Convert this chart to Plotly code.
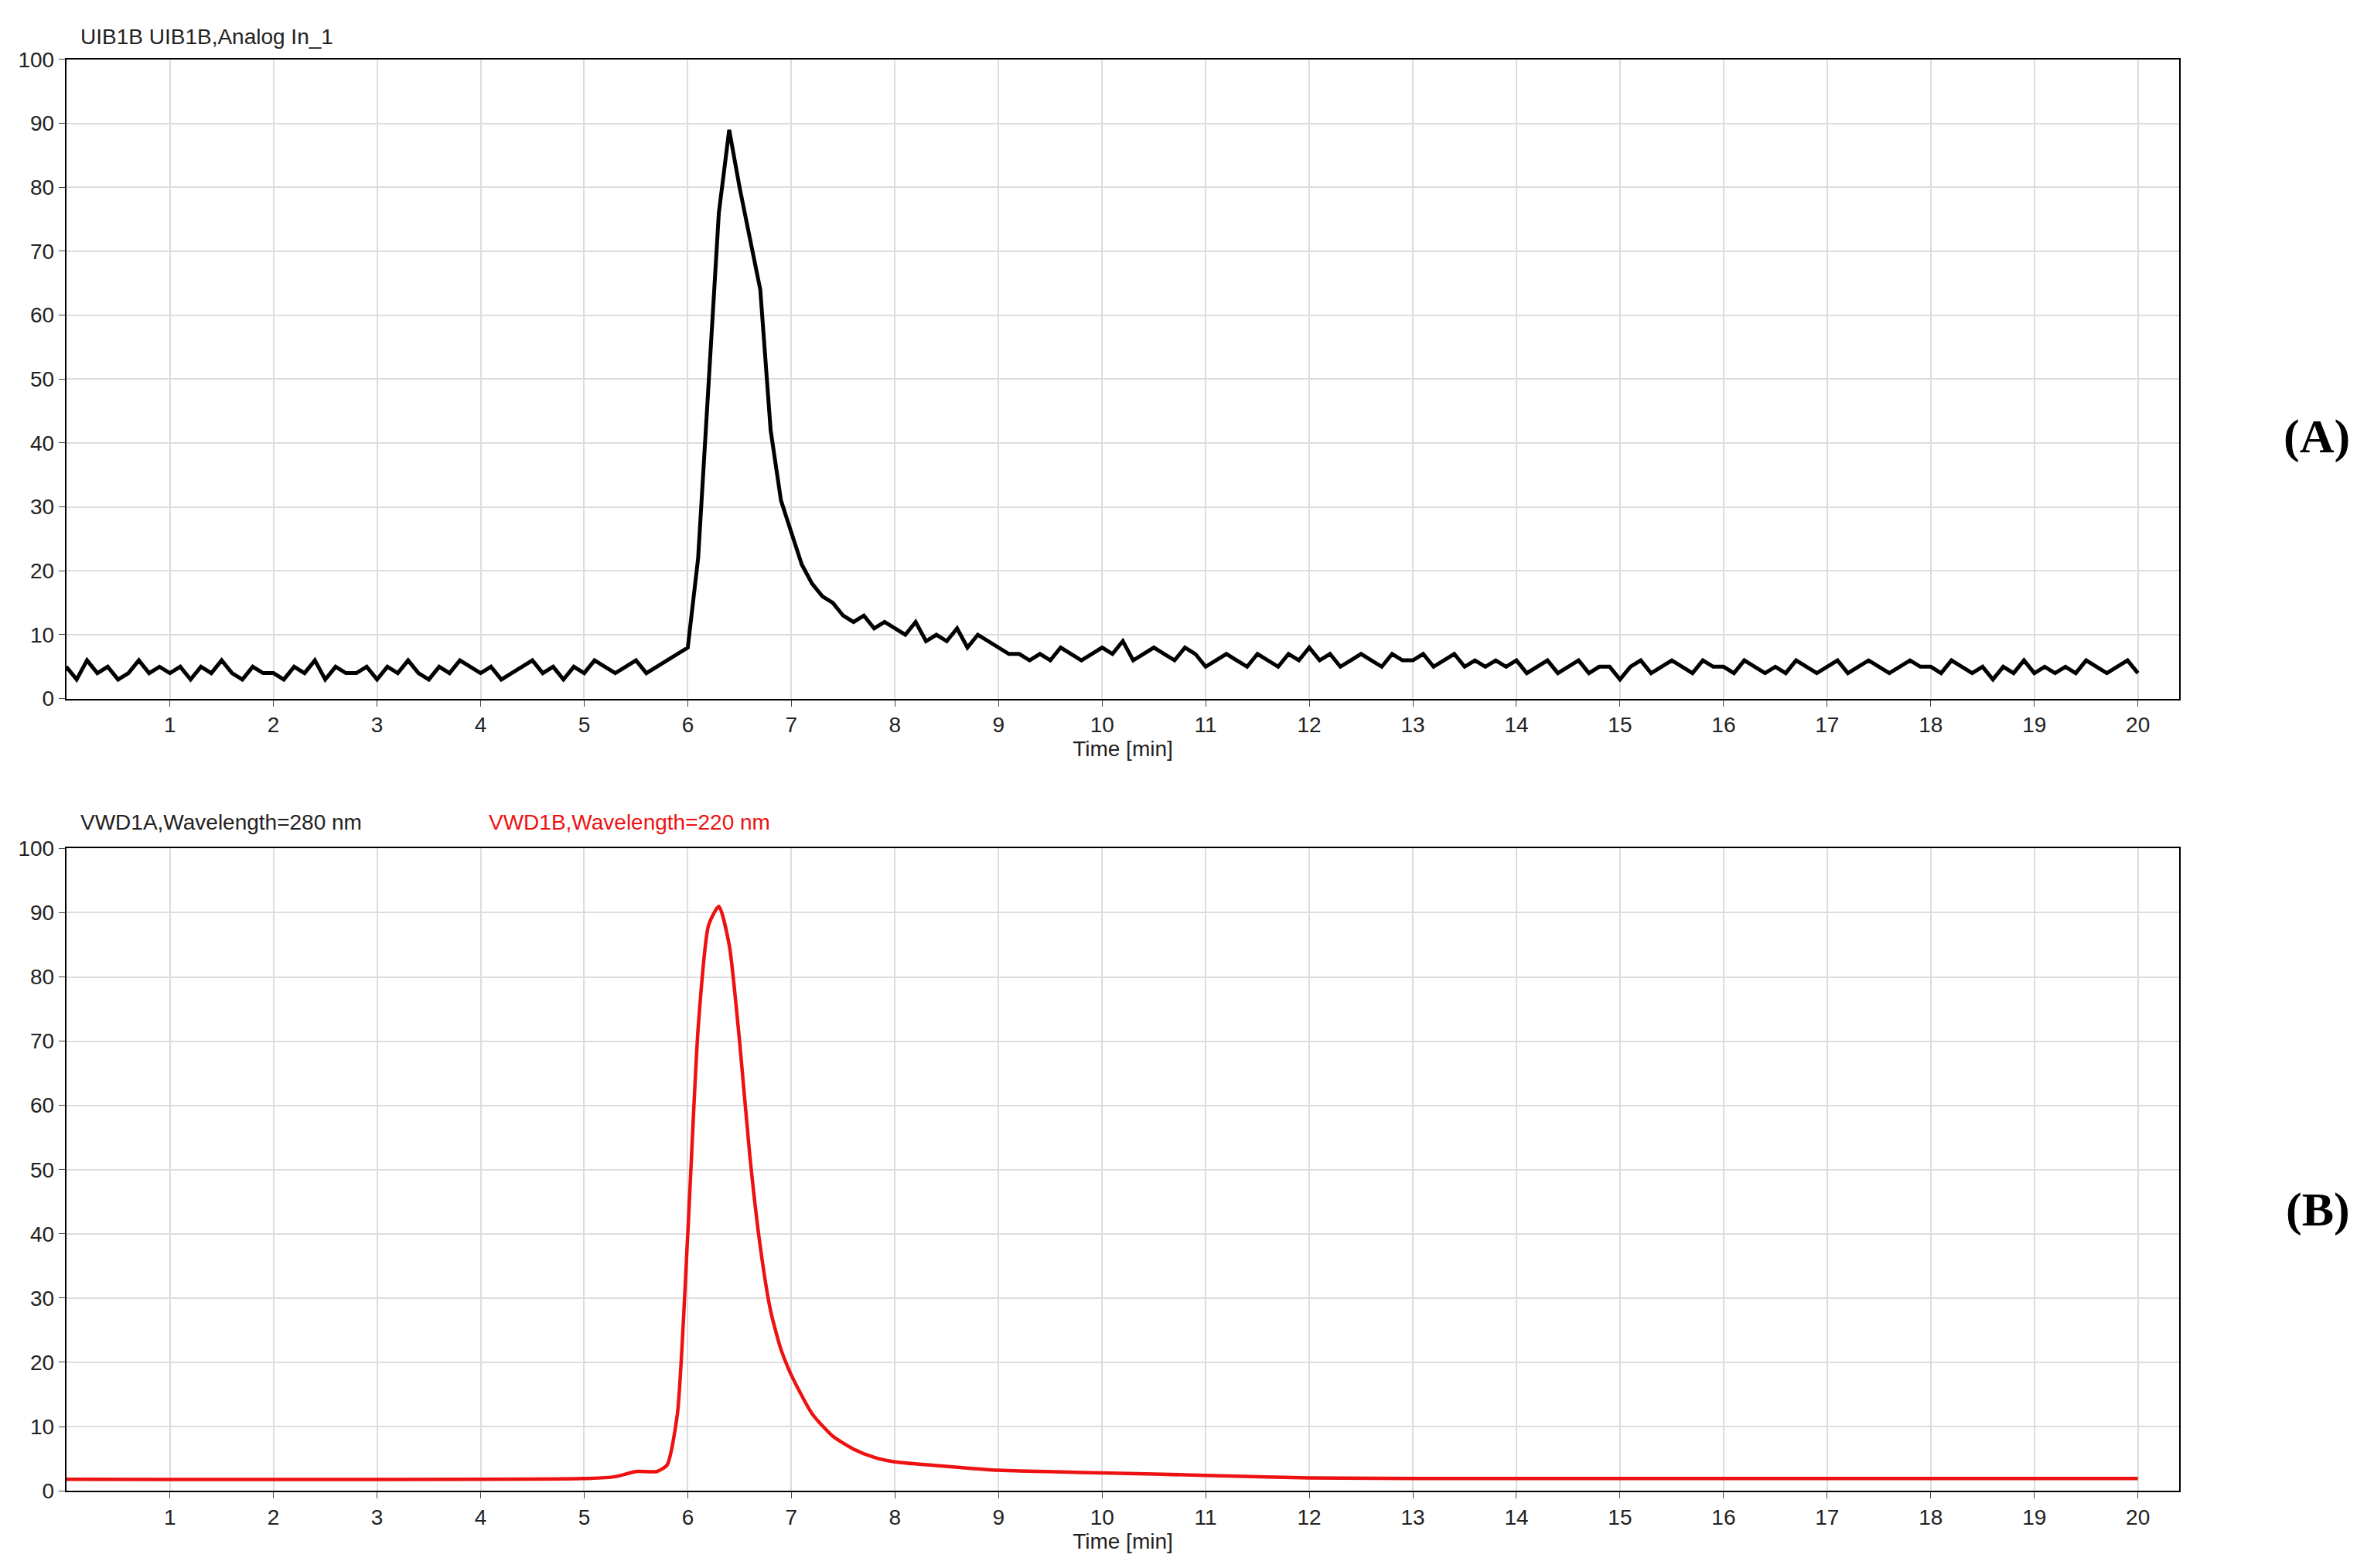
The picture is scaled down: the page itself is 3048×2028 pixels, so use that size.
import plotly.graph_objects as go

# Panel A: UIB1B analog signal, sampled every 0.1 min
time_a = [round(i * 0.1, 1) for i in range(201)]
signal_a = ([5,3,6,4,5,3,4,6,4,5, 4,5,3,5,4,6,4,3,5,4, 4,3,5,4,6,3,5,4,4,5,
             3,5,4,6,4,3,5,4,6,5, 4,5,3,4,5,6,4,5,3,5, 4,6,5,4,5,6,4,5,6,7]
            + [8,22,50,76,89,80,72,64,42,31, 26,21,18,16,15,13,12,13,11,12]
            + [11,10,12,9,10,9,11,8,10,9, 8,7,7,6,7,6,8,7,6,7]
            + [8,7,9,6,7,8,7,6,8,7, 5,6,7,6,5,7,6,5,7,6]
            + [8,6,7,5,6,7,6,5,7,6, 6,7,5,6,7,5,6,5,6,5]
            + [6,4,5,6,4,5,6,4,5,5, 3,5,6,4,5,6,5,4,6,5]
            + [5,4,6,5,4,5,4,6,5,4, 5,6,4,5,6,5,4,5,6,5]
            + [5,4,6,5,4,5,3,5,4,6, 4,5,4,5,4,6,5,4,5,6]
            + [4])

# Panel B: VWD1B 220 nm
time_b = [0,5,5.3,5.5,5.7,5.8,5.9,6.0,6.1,6.2,6.3,6.4,6.5,6.6,6.7,6.8,6.9,7.0,7.2,7.4,7.6,7.8,8.0,8.5,9,10,11,12,14,20]
signal_b = [1.8,1.9,2.2,3,3,4,12,40,72,88,91,85,70,52,38,28,22,18,12,8.5,6.5,5.2,4.5,3.8,3.2,2.8,2.4,2.0,1.9,1.9]

x_ticks = list(range(1, 21))
y_ticks = list(range(0, 101, 10))

fig = go.Figure()
fig.add_trace(go.Scatter(x=time_a, y=signal_a, mode="lines", line=dict(color="black", width=5), xaxis="x", yaxis="y"))
fig.add_trace(go.Scatter(x=time_b, y=signal_b, mode="lines", line=dict(color="#ee1111", width=4.5, shape="spline", smoothing=0.6), xaxis="x2", yaxis="y2"))

ax = dict(range=[0, 20.4], tickvals=x_ticks, showgrid=True, gridcolor="#dddddd", gridwidth=2,
          showline=True, linecolor="black", linewidth=2, mirror=True, ticks="outside", ticklen=8,
          tickfont=dict(family="Arial", size=28, color="#222"), zeroline=False,
          title=dict(text="Time [min]", font=dict(family="Arial", size=28, color="#222"), standoff=0))
ay = dict(range=[0, 100], tickvals=y_ticks, showgrid=True, gridcolor="#dddddd", gridwidth=2,
          showline=True, linecolor="black", linewidth=2, mirror=True, ticks="outside", ticklen=8,
          tickfont=dict(family="Arial", size=28, color="#222"), zeroline=False)

fig.update_layout(
    width=3048, height=2028, showlegend=False, plot_bgcolor="white", paper_bgcolor="white",
    margin=dict(l=0, r=0, t=0, b=0),
    xaxis=dict(ax, domain=[0.0255, 0.922], anchor="y"),
    yaxis=dict(ay, domain=[0.559, 0.973], anchor="x"),
    xaxis2=dict(ax, domain=[0.0255, 0.922], anchor="y2"),
    yaxis2=dict(ay, domain=[0.046, 0.462], anchor="x2"),
    annotations=[
        dict(text="UIB1B UIB1B,Analog In_1", x=0.031, y=0.979, xref="paper", yref="paper", xanchor="left", yanchor="bottom", showarrow=False, font=dict(family="Arial", size=28, color="#222")),
        dict(text="VWD1A,Wavelength=280 nm", x=0.031, y=0.470, xref="paper", yref="paper", xanchor="left", yanchor="bottom", showarrow=False, font=dict(family="Arial", size=28, color="#222")),
        dict(text="VWD1B,Wavelength=220 nm", x=0.204, y=0.470, xref="paper", yref="paper", xanchor="left", yanchor="bottom", showarrow=False, font=dict(family="Arial", size=28, color="#ee1111")),
        dict(text="<b>(A)</b>", x=0.995, y=0.747, xref="paper", yref="paper", xanchor="right", showarrow=False, font=dict(family="Liberation Serif", size=62, color="black")),
        dict(text="<b>(B)</b>", x=0.995, y=0.21, xref="paper", yref="paper", xanchor="right", showarrow=False, font=dict(family="Liberation Serif", size=62, color="black")),
    ],
)
fig.write_html("out.html")
